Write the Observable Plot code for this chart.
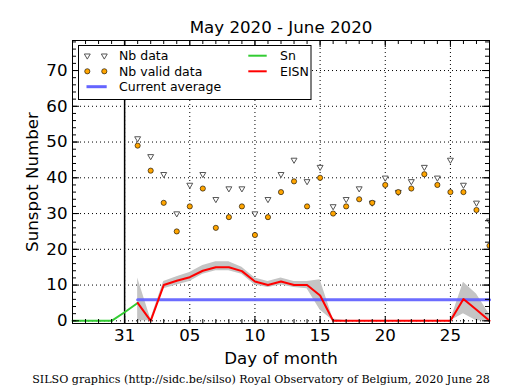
<!DOCTYPE html>
<html><head><meta charset="utf-8">
<script src="https://cdn.jsdelivr.net/npm/d3@7"></script>
<script src="https://cdn.jsdelivr.net/npm/@observablehq/plot@0.6"></script>
<style>body{margin:0;background:#fff}</style>
</head><body><div id="chart"></div>
<script>
// x positions: day index, May 31 = 0, June d = d
const days = [1,2,3,4,5,6,7,8,9,10,11,12,13,14,15,16,17,18,19,20,21,22,23,24,25,26,27,28];
const nbData = [51,46,41,30,38,41,34,37,37,30,34,41,45,39,43,32,34,37,33,40,36,39,43,40,45,38,33,28];
const nbValid = [49,42,33,25,32,37,26,29,32,24,29,36,39,32,40,30,32,34,33,38,36,37,41,38,36,36,31,21];
const eisn = [5.0,0,10,11.2,12.2,14,15,15,13.9,11,10,11,10,10,7.1,0,0,0,0,0,0,0,0,0,0,6.1,3.1,0];
const bandLow = [0,0,9,10,11,13,14,14,13,10,9.3,10,9.3,9,3,0,0,0,0,0,0,0,0,0,0,2,0,0];
const bandHigh = [12,0.5,11,12.3,13.5,15.5,16.5,16.5,15,12,11,12,11,11,11.5,0.5,0,0,0,0,0,0,0,0,0,10.8,7.5,1.8];
const snDays = [-4,-3,-2,-1,0,1];
const snValues = [0,0,0,0,2.4,5.0];
const avgDays = [1,28];
const avgValue = 5.9;
const xMajor = [0,5,10,15,20,25];
const xMajorLabels = ["31","05","10","15","20","25"];
const xMinor = [-4,-3,-2,-1,0,1,2,3,4,5,6,7,8,9,10,11,12,13,14,15,16,17,18,19,20,21,22,23,24,25,26,27,28];
const yMajor = [0,10,20,30,40,50,60,70];
const yMinor = [0,2,4,6,8,10,12,14,16,18,20,22,24,26,28,30,32,34,36,38,40,42,44,46,48,50,52,54,56,58,60,62,64,66,68,70,72,74,76,78];
const monthBoundary = [0];
const titleText = "May 2020 - June 2020";
const xLabel = "Day of month";
const yLabel = "Sunspot Number";
const captionText = "SILSO graphics (http://sidc.be/silso) Royal Observatory of Belgium, 2020 June 28";

const points = days.map((d,i)=>({day:d, nb:nbData[i], valid:nbValid[i], eisn:eisn[i], lo:bandLow[i], hi:bandHigh[i]}));
const sn = snDays.map((d,i)=>({day:d, v:snValues[i]}));
const avg = avgDays.map(d=>({day:d, v:avgValue}));

const W=515, H=390, mt=40, mr=26, mb=67, ml=72;
const fw = W-ml-mr, fh = H-mt-mb;

const chart = Plot.plot({
  width: W, height: H,
  marginTop: mt, marginRight: mr, marginBottom: mb, marginLeft: ml,
  style: {fontFamily: "DejaVu Sans", fontSize: "16.67px", background: "#fff", color: "#000"},
  x: {domain: [-4, 28]},
  y: {domain: [-0.75, 78.4]},
  marks: [
    Plot.gridX(xMajor, {stroke: "#000", strokeOpacity: 1, strokeDasharray: "1,3"}),
    Plot.gridY(yMajor, {stroke: "#000", strokeOpacity: 1, strokeDasharray: "1,3"}),
    Plot.ruleX(monthBoundary, {stroke: "#000", strokeWidth: 1.5}),
    Plot.areaY(points, {x: "day", y1: "lo", y2: "hi", fill: "#c4c4c4", curve: "linear"}),
    Plot.line(avg, {x: "day", y: "v", stroke: "#6464ff", strokeWidth: 3, strokeOpacity: 0.95}),
    Plot.line(sn, {x: "day", y: "v", stroke: "#33cc33", strokeWidth: 2}),
    Plot.line(points, {x: "day", y: "eisn", stroke: "#ff0000", strokeWidth: 2}),
    Plot.dot(points, {x: "day", y: "nb", symbol: "triangle", rotate: 180, r: 2.2, fill: "#fff", stroke: "#555", strokeWidth: 1, clip: true}),
    Plot.dot(points, {x: "day", y: "valid", r: 2.6, fill: "#ffa500", stroke: "#000", strokeWidth: 0.6, clip: true}),
    // inward ticks
    Plot.tickX(xMinor, {x: d=>d, insetTop: fh-4, stroke: "#000"}),
    Plot.tickX(xMinor, {x: d=>d, insetBottom: fh-4, stroke: "#000"}),
    Plot.tickX(xMajor, {x: d=>d, insetTop: fh-7, stroke: "#000"}),
    Plot.tickX(xMajor, {x: d=>d, insetBottom: fh-7, stroke: "#000"}),
    Plot.tickY(yMinor, {y: d=>d, insetRight: fw-4, stroke: "#000"}),
    Plot.tickY(yMinor, {y: d=>d, insetLeft: fw-4, stroke: "#000"}),
    Plot.tickY(yMajor, {y: d=>d, insetRight: fw-7, stroke: "#000"}),
    Plot.tickY(yMajor, {y: d=>d, insetLeft: fw-7, stroke: "#000"}),
    Plot.frame({stroke: "#000", strokeWidth: 1}),
    Plot.axisX(xMajor, {tickSize: 0, tickPadding: 6, label: null, fontSize: 16.67,
      tickFormat: d => xMajorLabels[xMajor.indexOf(d)]}),
    Plot.axisY(yMajor, {tickSize: 0, tickPadding: 5, label: null, fontSize: 16.67}),
    Plot.text([titleText], {frameAnchor: "top", lineAnchor: "bottom", dy: -8, fontSize: 16.67, fill: "#000"}),
    Plot.text([xLabel], {frameAnchor: "bottom", lineAnchor: "bottom", dy: 40, fontSize: 16.67, fill: "#000"}),
    Plot.text([yLabel], {frameAnchor: "left", textAnchor: "middle", lineAnchor: "bottom", rotate: -90, dx: -35, fontSize: 16.67, fill: "#000"}),
    Plot.text([captionText], {frameAnchor: "bottom", lineAnchor: "bottom", dy: 59, dx: -20, fontSize: 11.1, fontFamily: "DejaVu Serif", fill: "#000"})
  ]
});

// legend
const svg = d3.select(chart);
const lg = svg.append("g").attr("font-family", "DejaVu Sans").attr("font-size", 12.5).attr("text-anchor", "start");
lg.append("rect").attr("x", 78.5).attr("y", 45.5).attr("width", 232.5).attr("height", 54).attr("fill", "#fff").attr("stroke", "#000").attr("stroke-width", 1);
const tri = d3.symbol(d3.symbolTriangle, Math.PI*2.2*2.2)();
const rows = [55.7, 71.3, 86.7];
[87.3, 104.3].forEach(x => {
  lg.append("path").attr("d", tri).attr("transform", `translate(${x},${rows[0]}) rotate(180)`).attr("fill", "#fff").attr("stroke", "#555");
  lg.append("circle").attr("cx", x).attr("cy", rows[1]).attr("r", 2.6).attr("fill", "#ffa500").attr("stroke", "#000").attr("stroke-width", 0.6);
});
lg.append("line").attr("x1", 86.5).attr("x2", 106.7).attr("y1", rows[2]).attr("y2", rows[2]).attr("stroke", "#6464ff").attr("stroke-width", 3);
lg.append("line").attr("x1", 248.3).attr("x2", 266.7).attr("y1", rows[0]).attr("y2", rows[0]).attr("stroke", "#33cc33").attr("stroke-width", 2);
lg.append("line").attr("x1", 248.3).attr("x2", 266.7).attr("y1", rows[1]).attr("y2", rows[1]).attr("stroke", "#ff0000").attr("stroke-width", 2);
const labels = [["Nb data",119,rows[0]],["Nb valid data",119,rows[1]],["Current average",119,rows[2]],["Sn",280,rows[0]],["EISN",280,rows[1]]];
labels.forEach(([t,x,y]) => lg.append("text").attr("x", x).attr("y", y).attr("dy", "0.35em").attr("fill", "#000").text(t));

document.getElementById("chart").appendChild(chart);
</script>
</body></html>
